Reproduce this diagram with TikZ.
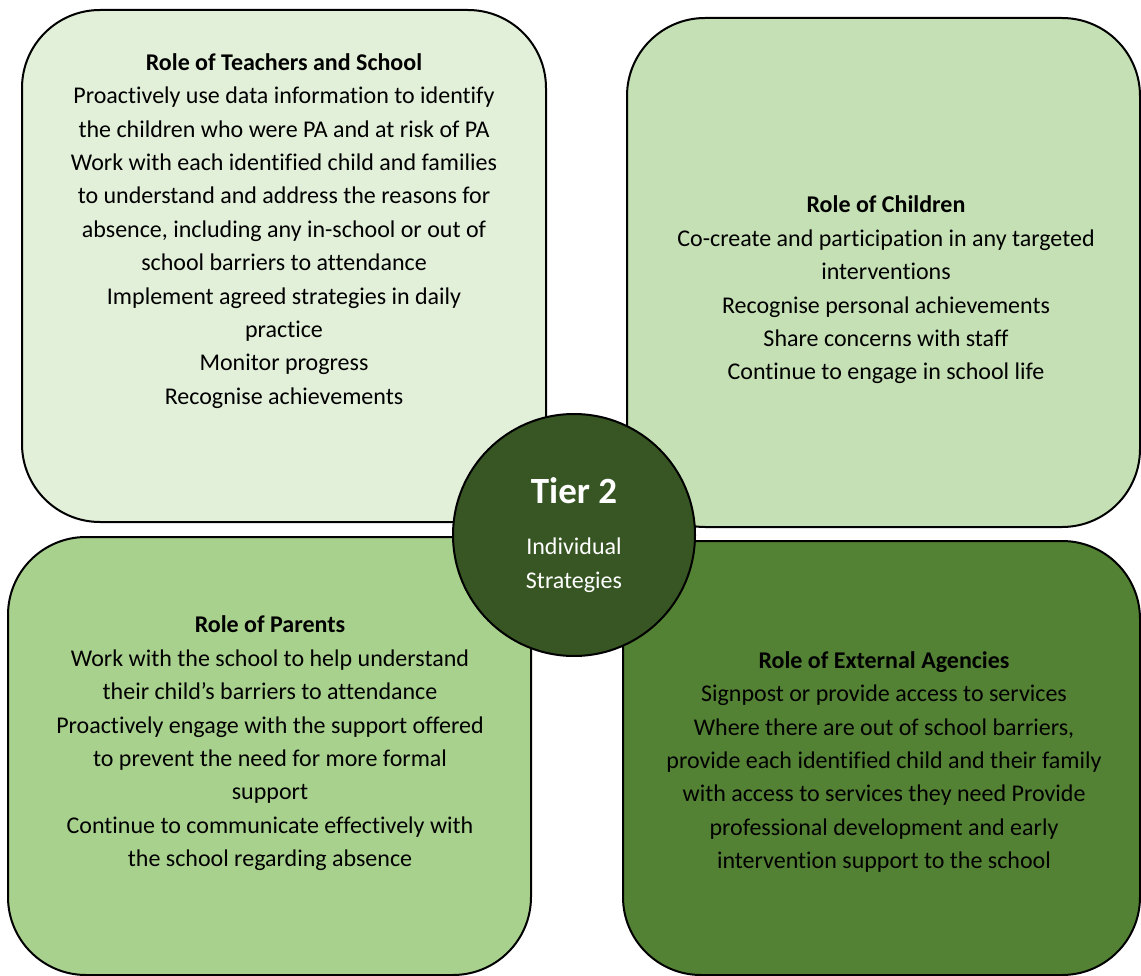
\documentclass[tikz,border=0pt]{standalone}
\usepackage{fontspec}
\setmainfont{Carlito}[Ligatures=NoCommon]
\usepackage{tikz}
\usetikzlibrary{positioning}

\definecolor{teachfill}{HTML}{E2EFD9}
\definecolor{childfill}{HTML}{C5E0B4}
\definecolor{parentfill}{HTML}{A9D18E}
\definecolor{agencyfill}{HTML}{548235}
\definecolor{tierfill}{HTML}{375623}

\begin{document}
\begin{tikzpicture}[
    x=1pt, y=-1pt,
    font=\fontsize{24}{33.4}\selectfont,
    quad/.style={rectangle, rounded corners=78pt, draw=black, line width=2pt, inner sep=0pt},
    roletext/.style={align=center, inner sep=0pt, text=black},
    tier/.style={circle, draw=black, line width=2pt, fill=tierfill, minimum size=242pt, inner sep=0pt, align=center, text=white}
  ]
    \useasboundingbox (0,0) rectangle (1141,976);

    % Quadrants
    \node[quad, fill=teachfill, minimum width=524pt, minimum height=512pt] (teach) at (284,266) {};
    \node[quad, fill=childfill, minimum width=513pt, minimum height=509pt] (child) at (883.5,272.5) {};
    \node[quad, fill=parentfill, minimum width=523pt, minimum height=438pt] (parent) at (269.5,756) {};
    \node[quad, fill=agencyfill, minimum width=517pt, minimum height=434pt] (agency) at (881.5,758) {};

    % Texts
    \node[roletext] (teachtxt) at (284,231) {\textbf{Role of Teachers and School}\\Proactively use data information to identify\\the children who were PA and at risk of PA\\Work with each identified child and families\\to understand and address the reasons for\\absence, including any in-school or out of\\school barriers to attendance\\Implement agreed strategies in daily\\practice\\Monitor progress\\Recognise achievements};
    \node[roletext] (childtxt) at (886,290) {\textbf{Role of Children}\\Co-create and participation in any targeted\\interventions\\Recognise personal achievements\\Share concerns with staff\\Continue to engage in school life};
    \node[roletext] (parenttxt) at (270,743.5) {\textbf{Role of Parents}\\Work with the school to help understand\\their child’s barriers to attendance\\Proactively engage with the support offered\\to prevent the need for more formal\\support\\Continue to communicate effectively with\\the school regarding absence};
    \node[roletext] (agencytxt) at (884,762) {\textbf{Role of External Agencies}\\Signpost or provide access to services\\Where there are out of school barriers,\\provide each identified child and their family\\with access to services they need Provide\\professional development and early\\intervention support to the school};

    % Centre
    \node[tier] (tier2) at (574,535) {{\fontsize{37}{40}\selectfont\bfseries Tier 2}\\[18pt]Individual\\Strategies};
  \end{tikzpicture}
\end{document}
